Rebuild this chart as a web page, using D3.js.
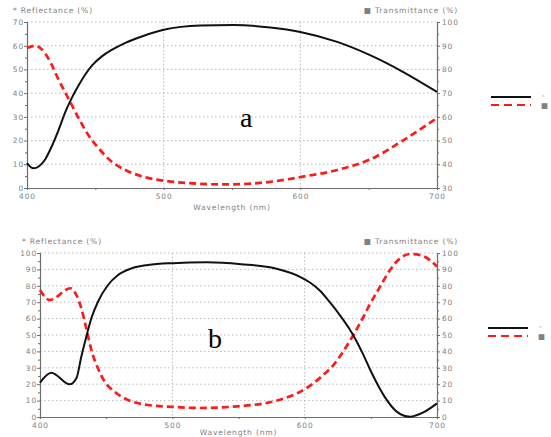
<!DOCTYPE html>
<html>
<head>
<meta charset="utf-8">
<script src="https://cdn.jsdelivr.net/npm/d3@7"></script>
<style>
  body { margin: 0; background: #fff; }
  svg { display: block; }
  .tick-label { font-family: 'DejaVu Sans', sans-serif; font-size: 7.4px; letter-spacing: 0.9px; fill: #808080; }
  .axis-title { font-family: 'DejaVu Sans', sans-serif; font-size: 7.6px; letter-spacing: 0.8px; fill: #808080; }
  .panel-letter { font-family: 'Liberation Serif', serif; font-size: 28px; fill: #000; }
</style>
</head>
<body>
<div id="chart"></div>
<script>
// panel a
const waveTransA = [400, 404.7, 413, 418, 423, 428, 433, 438, 443, 447.5, 455, 462, 472, 484, 500, 527, 551, 578, 600, 627, 651, 675, 700];
const transA = [40.5, 38.3, 41.8, 47.4, 54.3, 62, 68.2, 73.5, 78.2, 81.6, 85.6, 88.2, 91.2, 93.9, 96.7, 98.5, 98.7, 97.7, 95.8, 91.6, 86, 79, 70.5];
const waveReflA = [400, 406, 413, 418, 423, 428, 433, 438, 445, 452.5, 462, 472, 484, 500, 517, 546, 578, 600, 627, 651, 675, 700];
const reflA = [59, 60, 57, 52, 45.8, 40.3, 34.7, 29.2, 22.2, 16.7, 11.1, 7.6, 4.9, 3.1, 2.1, 1.5, 2.6, 4.6, 7.6, 12, 20, 29.5];

// panel b
const waveTransB = [400, 408.6, 422.4, 427.5, 431.2, 435, 438.8, 443.8, 451.4, 459, 469, 481.6, 500, 526, 552, 578, 596.5, 604, 611.6, 619, 626.7, 634, 639, 644, 649, 654, 662, 669.5, 679.6, 689.7, 700];
const transB = [21, 27, 19.9, 23.6, 36.8, 49, 60.2, 70.3, 80.5, 86.6, 90.6, 92.7, 93.8, 94.3, 93.2, 90.6, 85.5, 82, 77, 70, 62, 53.5, 46.5, 38.5, 29.7, 21.5, 10.4, 3.3, 0.2, 2.8, 8.3];
const waveReflB = [400, 407.3, 423, 427.5, 431.2, 435, 438.8, 443.8, 448.9, 456.4, 466.5, 481.6, 500, 521, 546, 578, 599, 606.5, 614, 621.7, 629, 636.8, 644, 649, 657, 664.5, 672, 679.6, 687, 694.6, 700];
const reflB = [77.4, 71.3, 78.5, 74.4, 66.3, 54, 40.9, 29.7, 21.5, 15.4, 10.4, 7.3, 6.2, 5.5, 6.3, 9.8, 16.5, 20.5, 25.6, 31.7, 39.8, 50, 60.5, 68.3, 79.5, 89.6, 96.7, 99.4, 98.8, 95.7, 91.7];

const xTicks = [400, 500, 600, 700];
const xMinorTicks = [450, 550, 650];

const panels = [
  {
    letter: 'a', letterX: 240, letterY: 127,
    left: 27, right: 437, top: 22, bottom: 188,
    reflTitleX: 13, xTitleY: 210,
    reflDomain: [0, 70], transDomain: [30, 100],
    waveTrans: waveTransA, trans: transA, waveRefl: waveReflA, refl: reflA,
    legendX: 491, legendY: 97
  },
  {
    letter: 'b', letterX: 208, letterY: 348,
    left: 40, right: 437, top: 253, bottom: 417,
    reflTitleX: 22, xTitleY: 435,
    reflDomain: [0, 100], transDomain: [0, 100],
    waveTrans: waveTransB, trans: transB, waveRefl: waveReflB, refl: reflB,
    legendX: 488, legendY: 328
  }
];

function drawPanel(svg, p) {
  const g = svg.append('g').attr('class', 'panel-' + p.letter);

  const x = d3.scaleLinear().domain([400, 700]).range([p.left, p.right]);
  const yL = d3.scaleLinear().domain(p.reflDomain).range([p.bottom, p.top]);
  const yR = d3.scaleLinear().domain(p.transDomain).range([p.bottom, p.top]);

  const yTicksL = d3.range(p.reflDomain[0], p.reflDomain[1] + 1, 10);
  const yTicksR = d3.range(p.transDomain[0], p.transDomain[1] + 1, 10);
  const yMinorL = d3.range(p.reflDomain[0] + 5, p.reflDomain[1], 10);

  // dotted grid
  g.selectAll('.hgrid')
    .data(yTicksL.slice(1))
    .join('line')
    .attr('x1', p.left).attr('x2', p.right)
    .attr('y1', d => yL(d)).attr('y2', d => yL(d))
    .attr('stroke', '#aaa')
    .attr('stroke-width', 0.8)
    .attr('stroke-dasharray', '1.5,2.5');

  g.selectAll('.vgrid')
    .data([500, 600])
    .join('line')
    .attr('x1', d => x(d)).attr('x2', d => x(d))
    .attr('y1', p.top).attr('y2', p.bottom)
    .attr('stroke', '#aaa')
    .attr('stroke-width', 0.8)
    .attr('stroke-dasharray', '1.5,2');

  // axes
  const axisColor = '#6e6e6e';
  const bottomAxis = g.append('g')
    .attr('transform', `translate(0, ${p.bottom})`)
    .call(d3.axisBottom(x).tickValues(xTicks).tickSize(2).tickFormat(d3.format('d')));
  const leftAxis = g.append('g')
    .attr('transform', `translate(${p.left}, 0)`)
    .call(d3.axisLeft(yL).tickValues(yTicksL).tickSize(3).tickFormat(d3.format('d')));
  const rightAxis = g.append('g')
    .attr('transform', `translate(${p.right}, 0)`)
    .call(d3.axisRight(yR).tickValues(yTicksR).tickSize(3).tickFormat(d3.format('d')));

  [bottomAxis, leftAxis, rightAxis].forEach(a => {
    a.select('.domain').attr('stroke', axisColor).attr('stroke-width', 1.2);
    a.selectAll('.tick line').attr('stroke', axisColor);
    a.selectAll('.tick text').attr('class', 'tick-label').attr('fill', null);
  });
  bottomAxis.selectAll('.tick text').attr('y', 5).attr('dy', '0.75em');
  leftAxis.selectAll('.tick text').attr('x', -3);
  rightAxis.selectAll('.tick text').attr('x', 5);

  // minor ticks
  g.append('g')
    .attr('transform', `translate(0, ${p.bottom})`)
    .call(d3.axisBottom(x).tickValues(xMinorTicks).tickSize(2).tickFormat(''))
    .call(a => a.select('.domain').remove())
    .selectAll('.tick line').attr('stroke', axisColor);
  g.append('g')
    .attr('transform', `translate(${p.left}, 0)`)
    .call(d3.axisLeft(yL).tickValues(yMinorL).tickSize(2).tickFormat(''))
    .call(a => a.select('.domain').remove())
    .selectAll('.tick line').attr('stroke', axisColor);
  g.append('g')
    .attr('transform', `translate(${p.right}, 0)`)
    .call(d3.axisRight(yL).tickValues(yMinorL).tickSize(2).tickFormat(''))
    .call(a => a.select('.domain').remove())
    .selectAll('.tick line').attr('stroke', axisColor);

  // axis titles
  g.append('text')
    .attr('class', 'axis-title')
    .attr('x', p.reflTitleX)
    .attr('y', p.top - 9)
    .text('* Reflectance (%)');
  g.append('text')
    .attr('class', 'axis-title')
    .attr('x', p.right + 21)
    .attr('y', p.top - 9)
    .attr('text-anchor', 'end')
    .text('\u25A0 Transmittance (%)');
  g.append('text')
    .attr('class', 'axis-title')
    .attr('x', (p.left + p.right) / 2)
    .attr('y', p.xTitleY)
    .attr('text-anchor', 'middle')
    .text('Wavelength (nm)');

  // curves
  const transLine = d3.line()
    .x(d => x(d[0]))
    .y(d => yR(d[1]))
    .curve(d3.curveMonotoneX);
  const reflLine = d3.line()
    .x(d => x(d[0]))
    .y(d => yL(d[1]))
    .curve(d3.curveMonotoneX);

  g.append('path')
    .datum(d3.zip(p.waveRefl, p.refl))
    .attr('d', reflLine)
    .attr('fill', 'none')
    .attr('stroke', '#ff1a1a')
    .attr('stroke-width', 2.7)
    .attr('stroke-dasharray', '7,4');

  g.append('path')
    .datum(d3.zip(p.waveTrans, p.trans))
    .attr('d', transLine)
    .attr('fill', 'none')
    .attr('stroke', '#111')
    .attr('stroke-width', 2);

  // panel letter
  g.append('text')
    .attr('class', 'panel-letter')
    .attr('x', p.letterX)
    .attr('y', p.letterY)
    .text(p.letter);

  // legend
  const legend = g.append('g')
    .attr('transform', `translate(${p.legendX}, ${p.legendY})`);
  legend.append('line')
    .attr('x1', 0).attr('x2', 40).attr('y1', 0).attr('y2', 0)
    .attr('stroke', '#111').attr('stroke-width', 2);
  legend.append('line')
    .attr('x1', 0).attr('x2', 40).attr('y1', 8).attr('y2', 8)
    .attr('stroke', '#ff1a1a').attr('stroke-width', 2.2)
    .attr('stroke-dasharray', '8,5');
  legend.append('text')
    .attr('class', 'tick-label')
    .attr('x', 51).attr('y', 1)
    .text('-');
  legend.append('text')
    .attr('class', 'tick-label')
    .attr('x', 50).attr('y', 11)
    .text('\u25A0');
}

const svg = d3.select('#chart').append('svg')
  .attr('width', 551)
  .attr('height', 437);

panels.forEach(p => drawPanel(svg, p));
</script>
</body>
</html>
